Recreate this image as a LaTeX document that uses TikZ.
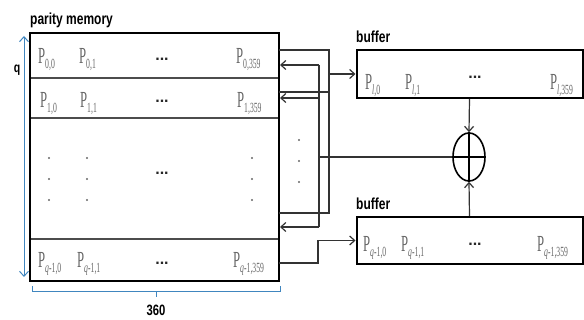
\documentclass[tikz,border=0pt]{standalone}
\usepackage{fontspec}
\usepackage{graphicx}
\setmainfont{Liberation Serif}
\newfontfamily\labfont{Liberation Sans}
\usetikzlibrary{arrows.meta,shapes.geometric}
\newcommand\PP[1]{\scalebox{0.55}[1]{\fontsize{23}{23}\selectfont P\raisebox{-5pt}{\fontsize{14}{14}\selectfont #1}}}
\newcommand\LB[2]{\scalebox{0.75}[1]{\labfont\bfseries\fontsize{#1}{#1}\selectfont #2}}
\newcommand\QQ{\textit{q}-1}
\begin{document}
\begin{tikzpicture}[x=1pt,y=-1pt,
  plabel/.style={inner sep=0pt, anchor=base west, text=black!60},
  dotslabel/.style={inner sep=0pt, anchor=base, text=black!85},
  title/.style={inner sep=0pt, anchor=base west},
  conn/.style={line width=1.2pt, draw=black!80},
  arr/.style={conn, -{Straight Barb[length=5pt,width=9pt]}},
  bluedim/.style={draw=blue!45!cyan!50!gray, line width=1pt},
  divider/.style={draw=black!70, line width=1.8pt},
  box/.style={draw=black, line width=2pt, inner sep=0pt},
  dotmark/.style={fill=black!60, draw=none, circle, inner sep=0pt, minimum size=2.2pt}
]
\useasboundingbox (0,0) rectangle (584,320);

% memory
\node[box, minimum width=249pt, minimum height=248pt] (mem) at (154.5,157) {};
\node[title] (memt) at (30,25) {\LB{16}{parity memory}};
\draw[divider] (31,78) -- (278,78);
\draw[divider] (31,118) -- (278,118);
\draw[divider] (31,239) -- (278,239);

% q arrow
\draw[bluedim, {Straight Barb[length=5pt,width=9pt]}-{Straight Barb[length=5pt,width=9pt]}] (24,36) -- (24,277);
\node (qlab) at (17,70) {\LB{14}{q}};
% 360 brace
\draw[bluedim] (32,286) -- (32,292) -- (280,292) -- (280,286);
\draw[bluedim] (156,292) -- (156,297);
\node (n360) at (156,310) {\LB{15}{360}};

% row 0
\node[plabel] (p00) at (38,64) {\PP{0,0}};
\node[plabel] (p01) at (79,64) {\PP{0,1}};
\node[dotslabel] (d0) at (162,61) {\labfont\bfseries\fontsize{16}{16}\selectfont ...};
\node[plabel] (p0n) at (236,64) {\PP{0,359}};
% row 1
\node[plabel] (p10) at (40,108) {\PP{1,0}};
\node[plabel] (p11) at (80,108) {\PP{1,1}};
\node[dotslabel] (d1) at (162,103) {\labfont\bfseries\fontsize{16}{16}\selectfont ...};
\node[plabel] (p1n) at (237,108) {\PP{1,359}};
% middle
\foreach \xx in {49,87,252} {
  \foreach \yy in {158,179,200} {
    \node[dotmark] at (\xx,\yy) {};
  }
}
\node[dotslabel] (dm) at (162,175) {\labfont\bfseries\fontsize{16}{16}\selectfont ...};
% last row
\node[plabel] (pq0) at (38,268) {\PP{\QQ,0}};
\node[plabel] (pq1) at (77,268) {\PP{\QQ,1}};
\node[dotslabel] (dq) at (162,265) {\labfont\bfseries\fontsize{16}{16}\selectfont ...};
\node[plabel] (pqn) at (233,268) {\PP{\QQ,359}};

% buffers
\node[box, minimum width=226pt, minimum height=48pt] (buf1) at (469.5,74) {};
\node[title] (buf1t) at (356,43) {\LB{16}{buffer}};
\node[plabel] (bl0) at (365,90) {\PP{\textit{l},0}};
\node[plabel] (bl1) at (405,90) {\PP{\textit{l},1}};
\node[dotslabel] (db1) at (475,79) {\labfont\bfseries\fontsize{16}{16}\selectfont ...};
\node[plabel] (bln) at (550,90) {\PP{\textit{l},359}};

\node[box, minimum width=226pt, minimum height=47pt] (buf2) at (469.5,240.5) {};
\node[title] (buf2t) at (356,210) {\LB{16}{buffer}};
\node[plabel] (bq0) at (363,252) {\PP{\QQ,0}};
\node[plabel] (bq1) at (401,252) {\PP{\QQ,1}};
\node[dotslabel] (db2) at (475,246) {\labfont\bfseries\fontsize{16}{16}\selectfont ...};
\node[plabel] (bqn) at (537,252) {\PP{\QQ,359}};

% xor
\node[ellipse, draw=black, line width=1.6pt, minimum width=32pt, minimum height=48pt, inner sep=0pt] (xor) at (469,157) {};
\draw[line width=1.4pt] (xor.north) -- (xor.south);
\draw[line width=1.4pt] (xor.west) -- (xor.east);

% connector dots
\foreach \yy in {140,161,182} { \node[dotmark] at (299,\yy) {}; }

% coordinates
\coordinate (o0) at (279,50);
\coordinate (o1) at (279,92);
\coordinate (om) at (279,213);
\coordinate (i0) at (280,65);
\coordinate (i1) at (280,98);
\coordinate (im) at (280,227);
\coordinate (oq) at (279,263);
\coordinate (busA) at (329,50);
\coordinate (busAb) at (329,213);
\coordinate (busAm) at (329,74);
\coordinate (busB) at (319,65);
\coordinate (busBb) at (319,227);
\coordinate (busBm) at (319,157);

% output bus to top buffer
\draw[conn] (o0) -- (busA) -- (busAb) -- (om);
\draw[conn] (o1) -- (329,92);
\draw[arr] (busAm) -- (buf1.west);
% feedback bus
\draw[conn] (busB) -- (busBb);
\draw[arr] (busB) -- (i0);
\draw[arr] (319,98) -- (i1);
\draw[arr] (busBb) -- (im);
\draw[conn] (busBm) -- (xor.west);
% last row to bottom buffer
\draw[arr] (oq) -- (318,263) -- (318,240.5) -- (buf2.west);
% buffers to xor
\draw[arr] (buf1.south) -- (xor.north);
\draw[arr] (buf2.north) -- (xor.south);
\end{tikzpicture}
\end{document}
